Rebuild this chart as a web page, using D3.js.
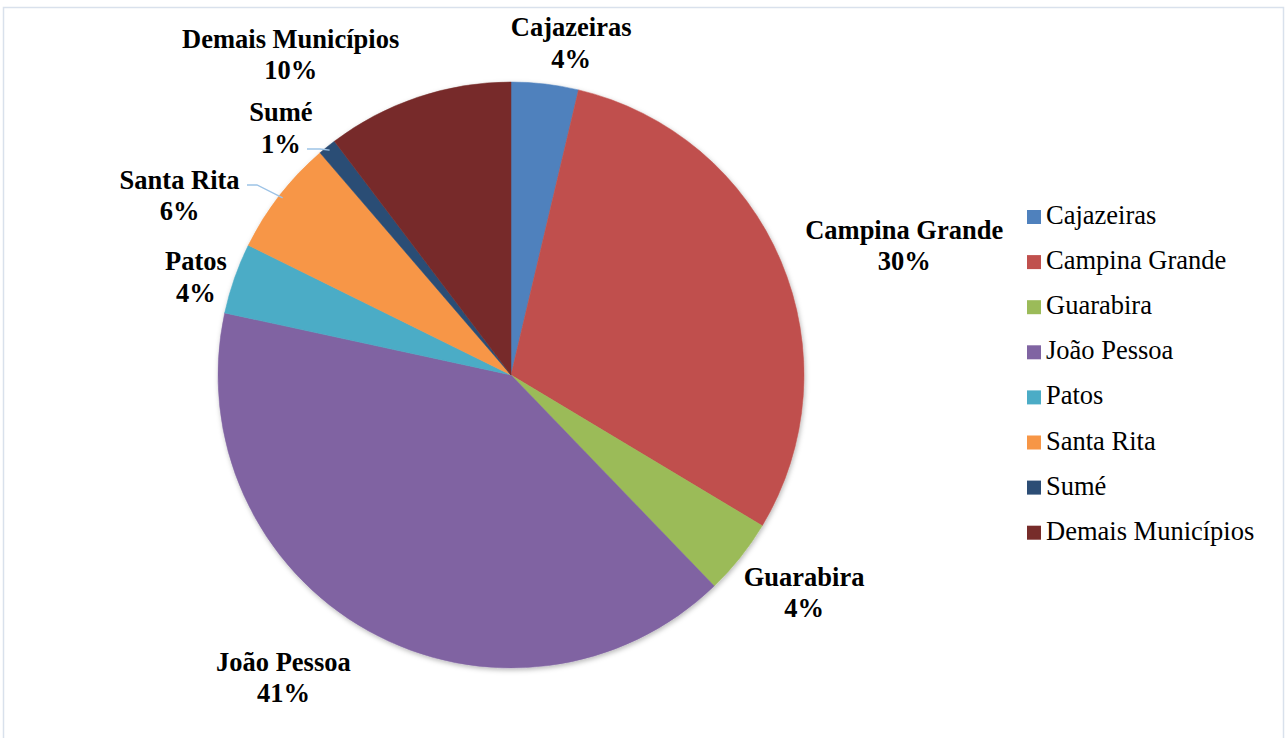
<!DOCTYPE html>
<html><head><meta charset="utf-8">
<script src="https://cdn.jsdelivr.net/npm/d3@7"></script>
<style>
html,body{margin:0;padding:0;background:#fff;}
svg{display:block;}
</style></head>
<body>
<svg id="chart" width="1288" height="738"></svg>
<script>
const categories = ["Cajazeiras","Campina Grande","Guarabira","João Pessoa","Patos","Santa Rita","Sumé","Demais Municípios"];
const values = [3.7, 29.9, 4.2, 40.6, 3.9, 6.4, 1.0, 10.3];
const percentLabels = ["4%","30%","4%","41%","4%","6%","1%","10%"];
const colors = ["#4f81bd","#c0504d","#9bbb59","#8064a2","#4bacc6","#f79646","#2c4d75","#772c2a"];

const svg = d3.select("#chart");

// outer frame
svg.append("rect").attr("x",3.5).attr("y",7.5).attr("width",1280).attr("height",740)
  .attr("fill","#fff").attr("stroke","#d9e1ec").attr("stroke-width",1.5);

const defs = svg.append("defs");
const f = defs.append("filter").attr("id","sh").attr("x","-10%").attr("y","-10%").attr("width","120%").attr("height","120%");
f.append("feDropShadow").attr("dx",1).attr("dy",2).attr("stdDeviation",2.5).attr("flood-color","#000").attr("flood-opacity",0.28);

const cx = 511, cy = 375, r = 293;
const pie = d3.pie().sort(null).value(d => d)(values);
const arc = d3.arc().innerRadius(0).outerRadius(r);

const g = svg.append("g").attr("transform",`translate(${cx},${cy})`);
const slices = g.append("g").attr("filter","url(#sh)");
slices.selectAll("path").data(pie).join("path")
  .attr("d", arc).attr("fill",(d,i)=>colors[i])
  .attr("stroke",(d,i)=>colors[i]).attr("stroke-width",0.5);

// labels: anchored at the slice's mid-angle just outside the rim, then offset
const font = "'Liberation Serif','Times New Roman',Times,serif";
const fs = 26.5;
const offsets = [[25,-31],[114,-12],[56,29],[-80,38],[-29,2],[-92,6],[-40,-11],[-124,-33]];
const lineH = 31.5;
pie.forEach((d,i) => {
  const a = (d.startAngle + d.endAngle)/2;
  const px = (r+10)*Math.sin(a), py = -(r+10)*Math.cos(a);
  const lx = px + offsets[i][0];
  const ly = py + offsets[i][1];
  const t = g.append("text").attr("text-anchor","middle")
    .attr("font-family",font).attr("font-weight","bold").attr("font-size",fs).attr("fill","#000");
  t.append("tspan").attr("x",lx).attr("y",ly - lineH/2 + 9).text(categories[i]);
  t.append("tspan").attr("x",lx).attr("y",ly + lineH/2 + 9).text(percentLabels[i]);
});

// leader lines for Santa Rita and Sumé
function leader(i, fromX, fromY, bendX) {
  const d = pie[i];
  const a = (d.startAngle + d.endAngle)/2;
  const ex = (r-4)*Math.sin(a), ey = -(r-4)*Math.cos(a);
  g.append("polyline")
    .attr("points", `${fromX},${fromY} ${bendX},${fromY} ${ex},${ey}`)
    .attr("fill","none").attr("stroke","#9dc3e6").attr("stroke-width",1.3);
}
leader(5, 247-cx, 185-cy, 257-cx);
leader(6, 307-cx, 149-cy, 320-cx);

// legend
const leg = svg.append("g").attr("transform","translate(1027,210)");
categories.forEach((c,i) => {
  const row = leg.append("g").attr("transform",`translate(0,${i*45.1})`);
  row.append("rect").attr("width",14).attr("height",14).attr("fill",colors[i]);
  row.append("text").attr("x",19).attr("y",14).attr("font-family",font)
    .attr("font-size",fs).attr("fill","#000").text(c);
});
</script>
</body></html>
